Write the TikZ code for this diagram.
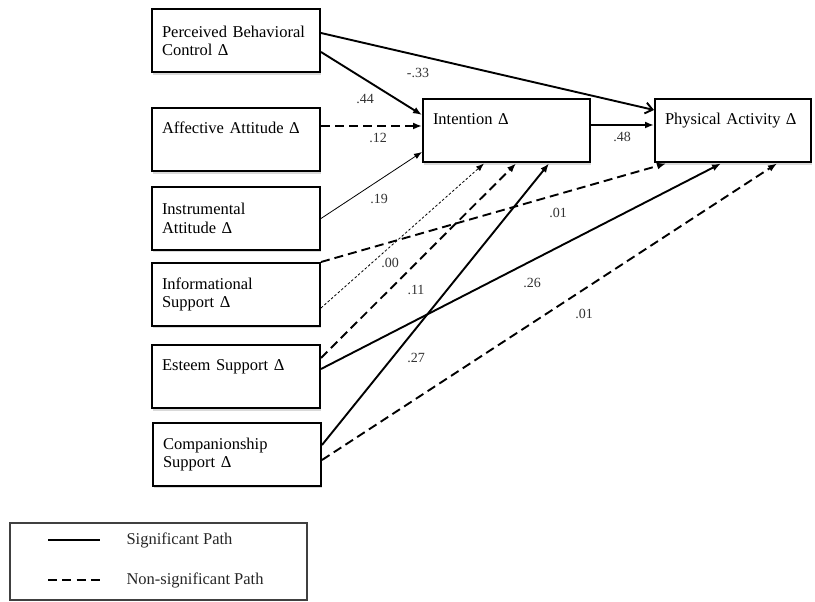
\documentclass[tikz,border=0pt]{standalone}
\usepackage{fontspec}
\setmainfont{Liberation Serif}
\usetikzlibrary{arrows.meta, calc, shadows}

\begin{document}
\begin{tikzpicture}[x=1pt, y=1pt,
  var/.style={draw, line width=2pt, fill=white, minimum height=63pt,
    text width=148pt, align=left, inner xsep=10pt,
    font=\fontsize{16.5}{18.5}\selectfont,
    drop shadow={shadow xshift=0.5pt, shadow yshift=-2.5pt, opacity=0.3}},
  coef/.style={font=\fontsize{14}{16}\selectfont, text=black!80, inner sep=1pt},
  legtxt/.style={font=\fontsize{16.5}{18.5}\selectfont, text=black!85, anchor=west},
  sig/.style={-{Latex[length=9pt,width=7pt]}, line width=1.9pt},
  nsig/.style={sig, dash pattern=on 9pt off 5pt},
  weak/.style={-{Latex[length=8pt,width=6pt]}, line width=0.8pt},
  faint/.style={weak, dash pattern=on 2.5pt off 2pt}]

  \useasboundingbox (0,0) rectangle (815,602);

  % Left column — predictor nodes
  \node[var] (pbc)  at (236,561)   {Perceived Behavioral\\Control Δ};
  \node[var] (aff)  at (236,462)   {Affective Attitude Δ\\\strut};
  \node[var] (inst) at (236,383.5) {Instrumental\\Attitude Δ};
  \node[var] (inf)  at (236,307.5) {Informational\\Support Δ};
  \node[var] (est)  at (236,225)   {Esteem Support Δ\\\strut};
  \node[var] (comp) at (237,147.5) {Companionship\\Support Δ};

  % Outcome nodes
  \node[var, text width=147pt] (int) at (506.5,471) {Intention Δ\\\strut};
  \node[var, text width=136pt] (pa)  at (733,471)   {Physical Activity Δ\\\strut};

  % Paths into intention
  \draw[sig]   ([yshift=-11pt]pbc.east)  -- ([yshift=16pt]int.west);
  \draw[nsig]  ([yshift=14pt]aff.east)   -- ([yshift=5pt]int.west);
  \draw[weak]  (inst.east)               -- ([yshift=-21pt]int.west);
  \draw[faint] ([yshift=-13.5pt]inf.east) -- ([xshift=62pt]int.south west);
  \draw[nsig]  ([yshift=19pt]est.east)   -- ([xshift=94pt]int.south west);
  \draw[sig]   ([yshift=9.5pt]comp.east) -- ([xshift=127pt]int.south west);

  % Paths into physical activity
  \draw[line width=1.9pt, -{Straight Barb[length=7pt,width=11pt]}]
    ([yshift=8pt]pbc.east) -- ([yshift=21pt]pa.west);
  \draw[sig]   ([yshift=6pt]int.east)    -- ([yshift=6pt]pa.west);
  \draw[nsig]  (inf.north east)          -- ([xshift=12pt]pa.south west);
  \draw[sig]   ([yshift=8pt]est.east)    -- ([xshift=67pt]pa.south west);
  \draw[nsig]  ([yshift=-5.5pt]comp.east) -- ([xshift=123pt]pa.south west);

  % Path coefficients
  \node[coef] (cPbcPa)   at (418,529) {-.33};
  \node[coef] (cPbcInt)  at (365,503) {.44};
  \node[coef] (cAffInt)  at (378,464) {.12};
  \node[coef] (cInstInt) at (379,403) {.19};
  \node[coef] (cInfInt)  at (390,339) {.00};
  \node[coef] (cEstInt)  at (416,312) {.11};
  \node[coef] (cCompInt) at (416,244) {.27};
  \node[coef] (cInfPa)   at (558,389) {.01};
  \node[coef] (cEstPa)   at (532,319) {.26};
  \node[coef] (cCompPa)  at (584,288) {.01};
  \node[coef] (cIntPa)   at (622,465) {.48};

  % Legend
  \node[draw=black!75, line width=1.2pt, minimum width=297pt, minimum height=77pt,
    inner sep=0pt] (legend) at (158.5,40.5) {};
  \coordinate (sigA) at (48,62);  \coordinate (sigB) at (100,62);
  \coordinate (nsA)  at (48,22);  \coordinate (nsB)  at (100,22);
  \draw[line width=1.9pt] (sigA) -- (sigB);
  \draw[line width=1.9pt, dash pattern=on 9pt off 5.3pt] (nsA) -- (nsB);
  \node[legtxt] (sigtxt) at (123,62) {Significant Path};
  \node[legtxt] (nstxt)  at (123,22) {Non-significant Path};
\end{tikzpicture}
\end{document}
